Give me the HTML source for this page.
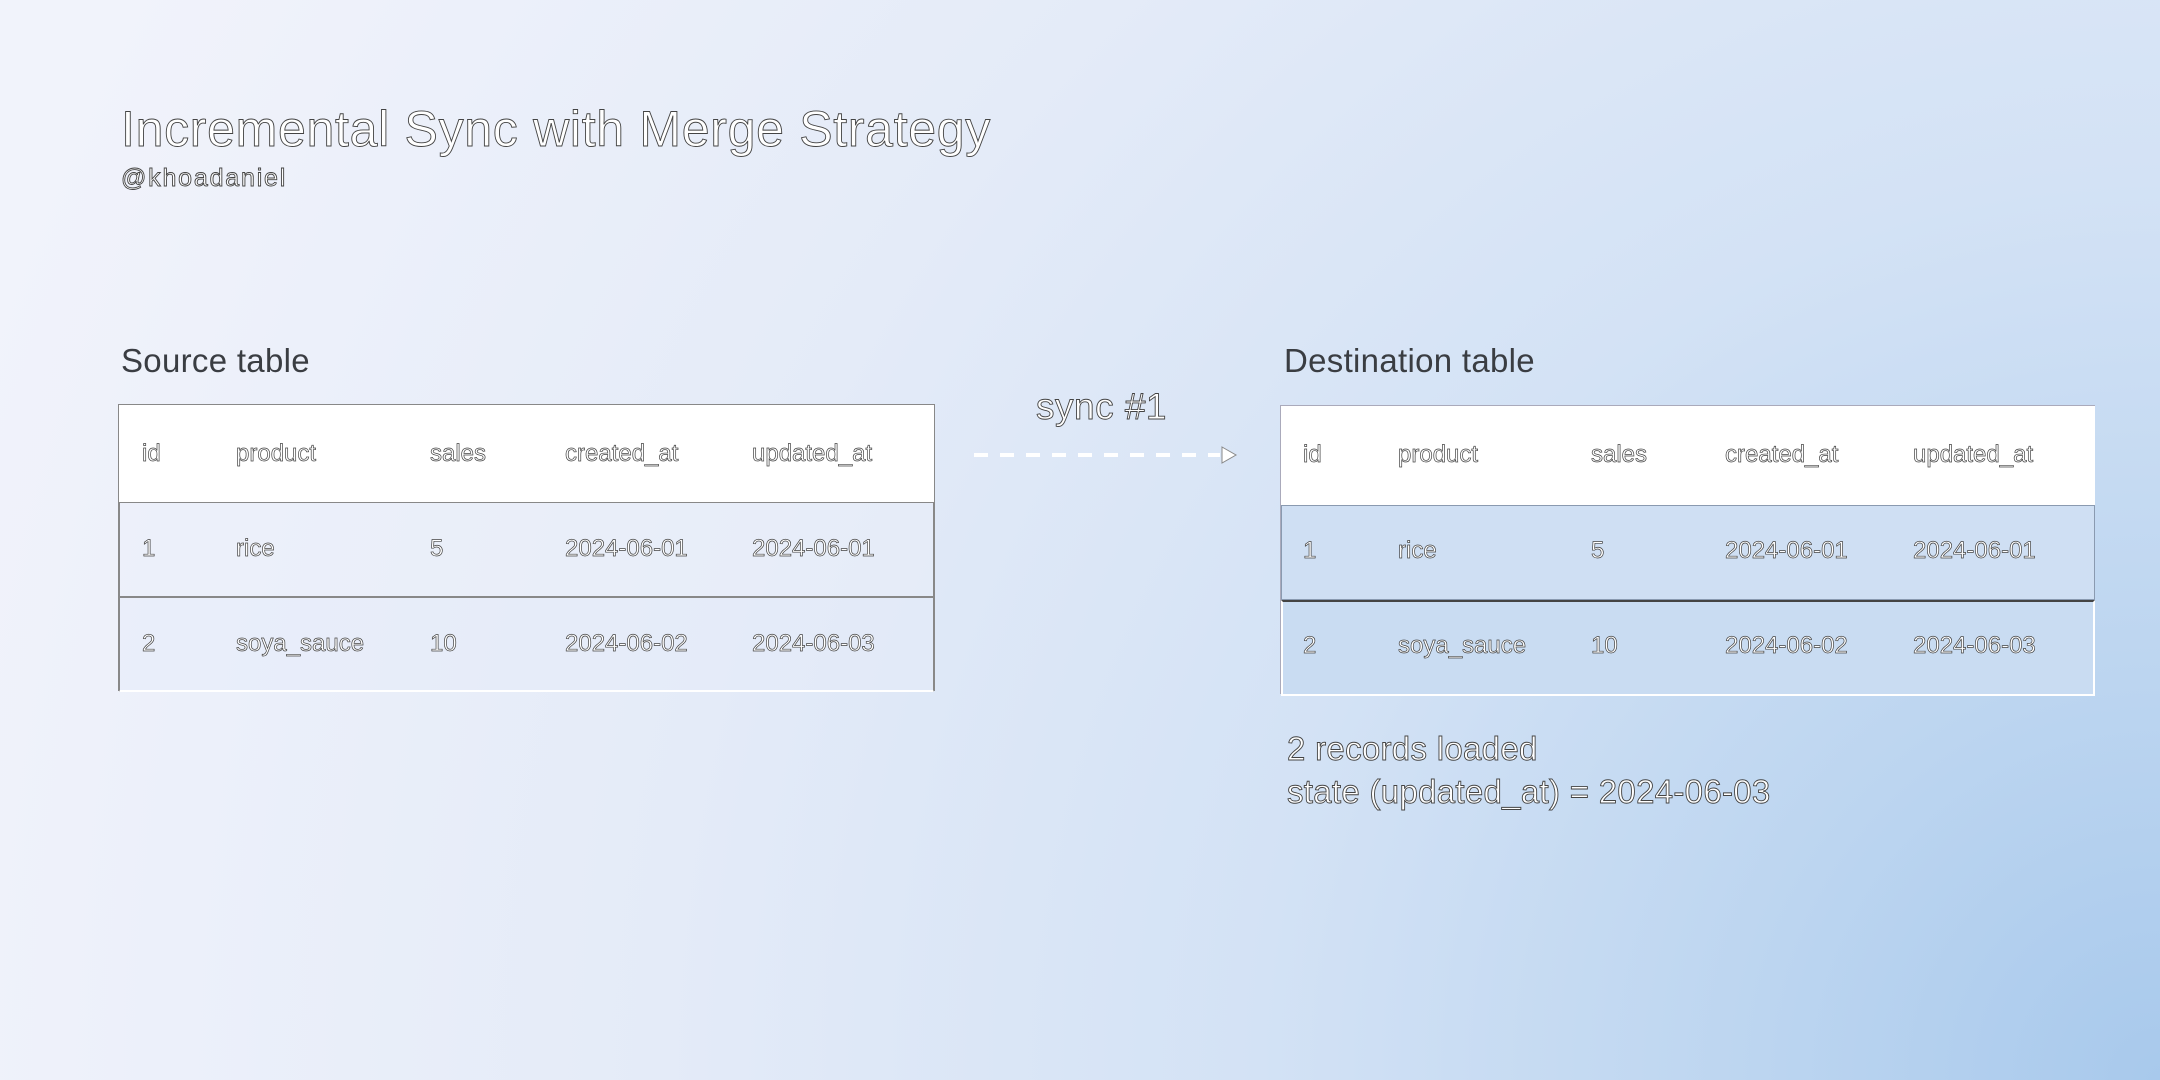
<!DOCTYPE html>
<html><head><meta charset="utf-8"><style>
html,body{margin:0;padding:0}
body{width:2160px;height:1080px;position:relative;overflow:hidden;font-family:"Liberation Sans",sans-serif;
background:radial-gradient(circle at 2160px 1080px,#a8c9ec 0px,#bcd5f0 400px,#d3e2f5 900px,#e4ebf8 1500px,#f1f3fb 2300px);}
.o{position:absolute;color:#fff;-webkit-text-stroke:0.9px #444;white-space:nowrap;line-height:1}
.d{position:absolute;color:#3a3d42;white-space:nowrap;line-height:1}
.tbl{position:absolute;border:1px solid #777}
.hdr{position:absolute;left:0;right:0;top:0;background:#fff}
.row{position:absolute;left:0;right:0;border:1px solid #888;box-sizing:border-box}
.c{position:absolute;font-size:24px;color:#fff;-webkit-text-stroke:0.7px #444;white-space:nowrap;line-height:1}
</style></head><body>
<div class="o" style="left:121px;top:104px;font-size:50px;letter-spacing:0.7px">Incremental Sync with Merge Strategy</div>
<div class="o" style="left:121px;top:166px;font-size:25px;letter-spacing:1.8px">@khoadaniel</div>

<div class="d" style="left:121px;top:344px;font-size:33px;letter-spacing:0.3px">Source table</div>
<div class="d" style="left:1284px;top:344px;font-size:33px;letter-spacing:0.3px">Destination table</div>

<!-- source -->
<div class="tbl" style="left:118px;top:404px;width:815px;height:286px;border-color:#888;border-bottom:none">
 <div class="hdr" style="height:97px"></div>
 <div class="row" style="top:97px;height:95px;background:rgba(235,239,250,0.5)"></div>
 <div class="row" style="top:192px;height:95px;background:rgba(230,236,250,0.5);border-bottom:2px solid #fff"></div>
</div>
<div class="c" style="left:142px;top:442px">id</div>
<div class="c" style="left:236px;top:442px">product</div>
<div class="c" style="left:430px;top:442px">sales</div>
<div class="c" style="left:565px;top:442px">created_at</div>
<div class="c" style="left:752px;top:442px">updated_at</div>
<div class="c" style="left:142px;top:537px">1</div>
<div class="c" style="left:236px;top:537px">rice</div>
<div class="c" style="left:430px;top:537px">5</div>
<div class="c" style="left:565px;top:537px">2024-06-01</div>
<div class="c" style="left:752px;top:537px">2024-06-01</div>
<div class="c" style="left:142px;top:632px">2</div>
<div class="c" style="left:236px;top:632px">soya_sauce</div>
<div class="c" style="left:430px;top:632px">10</div>
<div class="c" style="left:565px;top:632px">2024-06-02</div>
<div class="c" style="left:752px;top:632px">2024-06-03</div>

<!-- sync -->
<div class="o" style="left:1036px;top:388px;font-size:37px;letter-spacing:0.5px">sync #1</div>
<svg style="position:absolute;left:970px;top:440px" width="270" height="30">
<line x1="4" y1="15" x2="250" y2="15" stroke="#fff" stroke-width="4" stroke-dasharray="14,12"/>
<path d="M252 7 L266 15 L252 23 Z" fill="#fff" stroke="#888" stroke-width="1"/>
</svg>

<!-- destination -->
<div class="tbl" style="left:1280px;top:405px;width:814px;height:288px;border-color:#aab;border-width:1px 0 0 1px">
 <div class="hdr" style="height:99px"></div>
 <div class="row" style="top:99px;height:95px;background:#cfdff3;border-color:#8a9ab0"></div>
 <div class="row" style="top:194px;height:96px;background:#c9dcf2;border:2px solid #fff;border-top:2px solid #444"></div>
</div>
<div class="c" style="left:1303px;top:443px">id</div>
<div class="c" style="left:1398px;top:443px">product</div>
<div class="c" style="left:1591px;top:443px">sales</div>
<div class="c" style="left:1725px;top:443px">created_at</div>
<div class="c" style="left:1913px;top:443px">updated_at</div>
<div class="c" style="left:1303px;top:539px">1</div>
<div class="c" style="left:1398px;top:539px">rice</div>
<div class="c" style="left:1591px;top:539px">5</div>
<div class="c" style="left:1725px;top:539px">2024-06-01</div>
<div class="c" style="left:1913px;top:539px">2024-06-01</div>
<div class="c" style="left:1303px;top:634px">2</div>
<div class="c" style="left:1398px;top:634px">soya_sauce</div>
<div class="c" style="left:1591px;top:634px">10</div>
<div class="c" style="left:1725px;top:634px">2024-06-02</div>
<div class="c" style="left:1913px;top:634px">2024-06-03</div>

<div class="o" style="left:1287px;top:732px;font-size:33px;letter-spacing:0.3px">2 records loaded</div>
<div class="o" style="left:1287px;top:775px;font-size:33px;letter-spacing:0.3px">state (updated_at) = 2024-06-03</div>
</body></html>
